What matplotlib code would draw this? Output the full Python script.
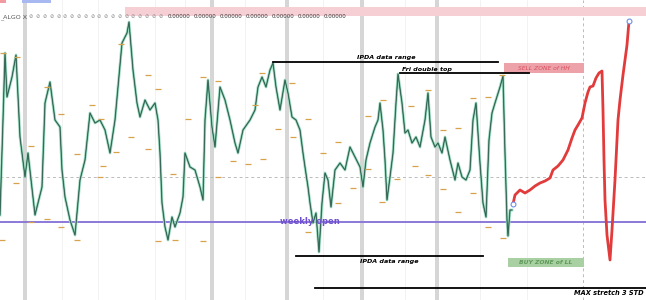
import matplotlib
matplotlib.use("Agg")
import matplotlib.pyplot as plt
from matplotlib.patches import Rectangle

bar = [0, 3, 5, 7, 12, 16, 20, 25, 28, 35, 42, 45, 50, 55, 60, 62, 65, 70, 75, 80,
       85, 90, 95, 100, 105, 110, 115, 118, 122, 127, 129, 133, 137, 140, 145, 150, 155,
       158, 160, 162, 165, 168, 172, 175, 180, 183, 185, 190, 195, 200, 203, 205, 208,
       212, 215, 220, 225, 230, 235, 238, 243, 250, 255, 258, 262, 266, 270, 273, 276,
       280, 285, 288, 292, 296, 300, 303, 305, 308, 310, 313, 316, 319, 322, 325, 328,
       331, 335, 340, 345, 350, 355, 360, 363, 366, 370, 375, 378, 380, 383, 385, 387,
       390, 393, 396, 398, 402, 405, 408, 412, 416, 420, 425, 428, 431, 435, 438, 442,
       445, 450, 455, 458, 462, 466, 470, 473, 476, 480, 483, 486, 489, 492, 495, 500,
       503, 505, 507, 508, 510, 512]
level = [215, 120, 53, 97, 77, 55, 137, 177, 153, 215, 187, 103, 82, 120, 127, 170,
         197, 220, 235, 180, 160, 113, 123, 120, 130, 153, 120, 87, 43, 33, 22, 70, 103,
         117, 100, 110, 103, 120, 153, 203, 227, 240, 217, 227, 213, 197, 153, 167, 170,
         187, 200, 120, 80, 127, 147, 87, 100, 120, 143, 153, 130, 120, 110, 87, 77, 87,
         70, 63, 87, 110, 80, 93, 117, 120, 130, 153, 167, 187, 203, 223, 213, 252, 203,
         173, 180, 207, 170, 163, 170, 147, 157, 167, 187, 160, 143, 127, 120, 103, 130,
         160, 200, 177, 153, 103, 74, 103, 133, 130, 143, 137, 147, 120, 93, 137, 147,
         143, 153, 137, 160, 180, 163, 177, 180, 170, 120, 103, 163, 203, 217, 140, 113,
         103, 87, 76, 153, 220, 236, 210, 210]

# projected path (red)
proj_bar = [513, 515, 520, 525, 530, 535, 540, 545, 550, 553, 558, 563, 568, 572, 575,
            578, 582, 585, 588, 590, 593, 596, 599, 602, 603, 604, 605, 607, 610, 612,
            615, 618, 620, 623, 627, 629]
proj_level = [204, 195, 190, 193, 190, 186, 183, 181, 178, 170, 166, 160, 150, 138, 130,
              125, 118, 103, 92, 87, 86, 78, 73, 71, 110, 160, 200, 235, 260, 230, 180,
              120, 100, 75, 45, 21]

# session high/low tags
tag_bar = [3, 17, 47, 61, 31, 16, 31, 47, 61, 77, 2, 77, 92, 101, 103, 121, 116, 100,
           148, 158, 131, 148, 188, 173, 175, 158, 203, 203, 218, 218, 233, 248, 255,
           262, 292, 278, 293, 308, 263, 323, 338, 338, 368, 368, 353, 308, 383, 411,
           428, 415, 382, 397, 428, 443, 458, 443, 473, 458, 473, 488, 488, 502, 503]
tag_level = [53, 57, 87, 114, 146, 183, 222, 219, 227, 240, 240, 154, 105, 119, 166, 44,
             152, 177, 75, 89, 137, 149, 119, 174, 240, 241, 241, 77, 81, 177, 161, 164,
             105, 73, 83, 129, 137, 119, 159, 153, 142, 203, 116, 169, 188, 232, 100, 106,
             90, 166, 202, 179, 175, 130, 128, 189, 193, 212, 98, 97, 227, 75, 238]

session_bands = [25, 212, 287, 362, 437]
grid_x = [62, 98, 155, 185, 245, 323, 405, 480, 527]
weekly_open = 222
mid_level = 177
top_readouts = ["0.00000"] * 7

fig = plt.figure(figsize=(6.46, 3.0), dpi=100)
ax = fig.add_axes([0, 0, 1, 1])
ax.set_xlim(0, 646)
ax.set_ylim(300, 0)
ax.axis("off")

for gx in grid_x:
    ax.axvline(gx, color="#f0f0f0", lw=0.6, zorder=0)
for sb in session_bands:
    ax.axvspan(sb - 2, sb + 2, color="#d6d6d6", lw=0, zorder=0)

ax.axhline(mid_level, color="#bbbbbb", lw=0.7, ls=(0, (3, 3)), zorder=1)
ax.axvline(583, color="#bbbbbb", lw=0.7, ls=(0, (3, 3)), zorder=1)

# top bars
ax.add_patch(Rectangle((125, 7), 521, 9, color="#f5cfd4", lw=0, zorder=1))
ax.add_patch(Rectangle((0, 0), 6, 3, color="#f19aa2", lw=0, zorder=1))
ax.add_patch(Rectangle((22, 0), 29, 3, color="#a8b8f0", lw=0, zorder=1))
ax.text(0, 17, "_ALGO X", fontsize=4.5, color="#555555", va="center", ha="left", zorder=8)
for i in range(20):
    ax.text(31 + i * 6.8, 17, "⊘", fontsize=3.6, color="#888888", va="center",
            ha="center", zorder=8)
for i, t in enumerate(top_readouts):
    ax.text(168 + i * 26, 17, t, fontsize=3.9, color="#333333", va="center",
            ha="left", zorder=8)

# price
ax.plot(bar, level, color="#a6dcc4", lw=2.0, zorder=3, solid_joinstyle="round")
ax.plot(bar, level, color="#44957a", lw=0.9, zorder=4)
ax.plot(bar, level, color="#2c3f38", lw=0.35, zorder=5)

for tx, ty in zip(tag_bar, tag_level):
    ax.plot([tx - 3, tx + 3], [ty, ty], color="#d8a24c", lw=0.9, zorder=6,
            solid_capstyle="butt")

# weekly open
ax.axhline(weekly_open, color="#8a79d8", lw=1.4, zorder=2)
ax.text(310, weekly_open, "weekly open", fontsize=6, color="#6f4fd0", weight="bold",
        ha="center", va="center", zorder=7)

# IPDA ranges and annotations
ax.plot([273, 498], [62, 62], color="black", lw=1.3, zorder=6)
ax.text(386, 57, "IPDA data range", fontsize=4.6, style="italic", weight="bold",
        ha="center", va="center")
ax.plot([400, 529], [73, 73], color="black", lw=1.3, zorder=6)
ax.text(402, 69, "Fri double top", fontsize=4.6, style="italic", weight="bold",
        ha="left", va="center")
ax.plot([296, 483], [256, 256], color="black", lw=1.3, zorder=6)
ax.text(389, 261, "IPDA data range", fontsize=4.6, style="italic", weight="bold",
        ha="center", va="center")
ax.plot([315, 646], [288, 288], color="black", lw=1.3, zorder=6)
ax.text(644, 293, "MAX stretch 3 STD", fontsize=4.8, style="italic", weight="bold",
        ha="right", va="center")

ax.add_patch(Rectangle((504, 63), 80, 10, color="#eda2aa", lw=0, zorder=2))
ax.text(544, 68, "SELL ZONE of HH", fontsize=4.3, style="italic", color="#d8505e",
        ha="center", va="center", zorder=3)
ax.add_patch(Rectangle((508, 258), 76, 9, color="#a9d0a2", lw=0, zorder=2))
ax.text(546, 262.5, "BUY ZONE of LL", fontsize=4.3, style="italic", weight="bold",
        color="#5f9a5a", ha="center", va="center", zorder=3)

# projection
ax.plot(proj_bar, proj_level, color="#e23b3b", lw=2.0, zorder=6,
        solid_joinstyle="round")
ax.plot([proj_bar[0], proj_bar[-1]], [proj_level[0], proj_level[-1]], "o",
        ms=3.5, mfc="white", mec="#6f8fe8", mew=0.8, zorder=7)

fig.savefig("out.png", dpi=100)
